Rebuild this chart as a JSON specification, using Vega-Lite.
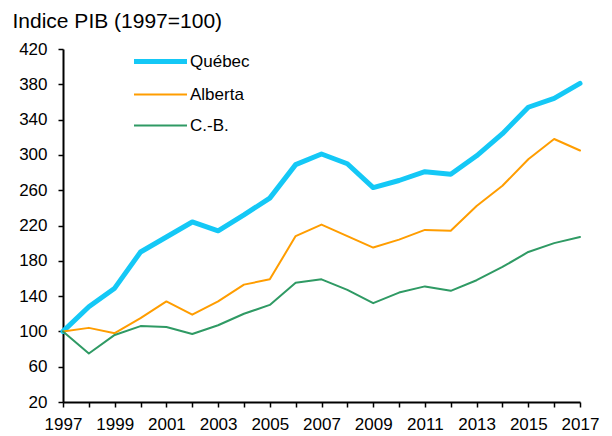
{
  "$schema": "https://vega.github.io/schema/vega-lite/v6.json",
  "width": 517,
  "height": 353,
  "autosize": "none",
  "padding": {"left": 63, "top": 49, "right": 32, "bottom": 34},
  "background": "white",
  "config": {"view": {"stroke": null}, "font": "Liberation Sans"},
  "datasets": {
    "pib": [
      {"annee": 1997, "region": "Québec", "indice": 100},
      {"annee": 1998, "region": "Québec", "indice": 128},
      {"annee": 1999, "region": "Québec", "indice": 149},
      {"annee": 2000, "region": "Québec", "indice": 190},
      {"annee": 2001, "region": "Québec", "indice": 207},
      {"annee": 2002, "region": "Québec", "indice": 224},
      {"annee": 2003, "region": "Québec", "indice": 214},
      {"annee": 2004, "region": "Québec", "indice": 232},
      {"annee": 2005, "region": "Québec", "indice": 251},
      {"annee": 2006, "region": "Québec", "indice": 289},
      {"annee": 2007, "region": "Québec", "indice": 301},
      {"annee": 2008, "region": "Québec", "indice": 290},
      {"annee": 2009, "region": "Québec", "indice": 263},
      {"annee": 2010, "region": "Québec", "indice": 271},
      {"annee": 2011, "region": "Québec", "indice": 281},
      {"annee": 2012, "region": "Québec", "indice": 278},
      {"annee": 2013, "region": "Québec", "indice": 299},
      {"annee": 2014, "region": "Québec", "indice": 324},
      {"annee": 2015, "region": "Québec", "indice": 354},
      {"annee": 2016, "region": "Québec", "indice": 364},
      {"annee": 2017, "region": "Québec", "indice": 381},
      {"annee": 1997, "region": "Alberta", "indice": 100},
      {"annee": 1998, "region": "Alberta", "indice": 104},
      {"annee": 1999, "region": "Alberta", "indice": 98},
      {"annee": 2000, "region": "Alberta", "indice": 115},
      {"annee": 2001, "region": "Alberta", "indice": 134},
      {"annee": 2002, "region": "Alberta", "indice": 119},
      {"annee": 2003, "region": "Alberta", "indice": 134},
      {"annee": 2004, "region": "Alberta", "indice": 153},
      {"annee": 2005, "region": "Alberta", "indice": 159},
      {"annee": 2006, "region": "Alberta", "indice": 208},
      {"annee": 2007, "region": "Alberta", "indice": 221},
      {"annee": 2008, "region": "Alberta", "indice": 208},
      {"annee": 2009, "region": "Alberta", "indice": 195},
      {"annee": 2010, "region": "Alberta", "indice": 204},
      {"annee": 2011, "region": "Alberta", "indice": 215},
      {"annee": 2012, "region": "Alberta", "indice": 214},
      {"annee": 2013, "region": "Alberta", "indice": 242},
      {"annee": 2014, "region": "Alberta", "indice": 265},
      {"annee": 2015, "region": "Alberta", "indice": 295},
      {"annee": 2016, "region": "Alberta", "indice": 318},
      {"annee": 2017, "region": "Alberta", "indice": 305},
      {"annee": 1997, "region": "C.-B.", "indice": 100},
      {"annee": 1998, "region": "C.-B.", "indice": 75},
      {"annee": 1999, "region": "C.-B.", "indice": 96},
      {"annee": 2000, "region": "C.-B.", "indice": 106},
      {"annee": 2001, "region": "C.-B.", "indice": 105},
      {"annee": 2002, "region": "C.-B.", "indice": 97},
      {"annee": 2003, "region": "C.-B.", "indice": 107},
      {"annee": 2004, "region": "C.-B.", "indice": 120},
      {"annee": 2005, "region": "C.-B.", "indice": 130},
      {"annee": 2006, "region": "C.-B.", "indice": 155},
      {"annee": 2007, "region": "C.-B.", "indice": 159},
      {"annee": 2008, "region": "C.-B.", "indice": 147},
      {"annee": 2009, "region": "C.-B.", "indice": 132},
      {"annee": 2010, "region": "C.-B.", "indice": 144},
      {"annee": 2011, "region": "C.-B.", "indice": 151},
      {"annee": 2012, "region": "C.-B.", "indice": 146},
      {"annee": 2013, "region": "C.-B.", "indice": 158},
      {"annee": 2014, "region": "C.-B.", "indice": 173},
      {"annee": 2015, "region": "C.-B.", "indice": 190},
      {"annee": 2016, "region": "C.-B.", "indice": 200},
      {"annee": 2017, "region": "C.-B.", "indice": 207}
    ]
  },
  "data": {"name": "pib"},
  "mark": {"type": "line", "strokeCap": "round", "strokeJoin": "round"},
  "encoding": {
    "x": {
      "field": "annee",
      "type": "quantitative",
      "scale": {"domain": [1997, 2017], "nice": false, "zero": false},
      "axis": {
        "title": null,
        "values": [1997, 1998, 1999, 2000, 2001, 2002, 2003, 2004, 2005, 2006, 2007, 2008, 2009, 2010, 2011, 2012, 2013, 2014, 2015, 2016, 2017],
        "format": "d",
        "labelExpr": "datum.value % 2 == 1 ? datum.label : ''",
        "grid": false,
        "domainColor": "black",
        "domainWidth": 2,
        "tickColor": "black",
        "tickWidth": 1.5,
        "tickSize": 5,
        "labelFontSize": 17,
        "labelColor": "black",
        "labelPadding": 9,
        "labelFlush": false,
        "labelOverlap": false
      }
    },
    "y": {
      "field": "indice",
      "type": "quantitative",
      "scale": {"domain": [20, 420], "nice": false, "zero": false},
      "axis": {
        "title": "Indice PIB (1997=100)",
        "values": [20, 60, 100, 140, 180, 220, 260, 300, 340, 380, 420],
        "titleAngle": 0,
        "titleAlign": "left",
        "titleBaseline": "alphabetic",
        "titleX": -51,
        "titleY": -22,
        "titleFontSize": 21,
        "titleFontWeight": "normal",
        "titleColor": "black",
        "grid": false,
        "domainColor": "black",
        "domainWidth": 2,
        "tickColor": "black",
        "tickWidth": 1.5,
        "tickSize": 5,
        "labelFontSize": 17,
        "labelColor": "black",
        "labelPadding": 11,
        "labelOverlap": false
      }
    },
    "strokeWidth": {
      "condition": {"test": "datum.region === 'Québec'", "value": 5},
      "value": 2
    },
    "color": {
      "field": "region",
      "type": "nominal",
      "sort": ["Québec", "Alberta", "C.-B."],
      "scale": {"domain": ["Québec", "Alberta", "C.-B."], "range": ["#14C8F6", "#FF9D00", "#2F9A64"]},
      "legend": {
        "title": null,
        "orient": "none",
        "legendX": 89,
        "legendY": 4,
        "symbolType": "stroke",
        "symbolSize": 2809,
        "labelFontSize": 17,
        "labelColor": "black",
        "labelOffset": 21,
        "rowPadding": 13,
        "encode": {
          "symbols": {
            "update": {
              "strokeWidth": {"signal": "datum.value === 'Québec' ? 5 : 2"}
            }
          }
        }
      }
    }
  }
}
